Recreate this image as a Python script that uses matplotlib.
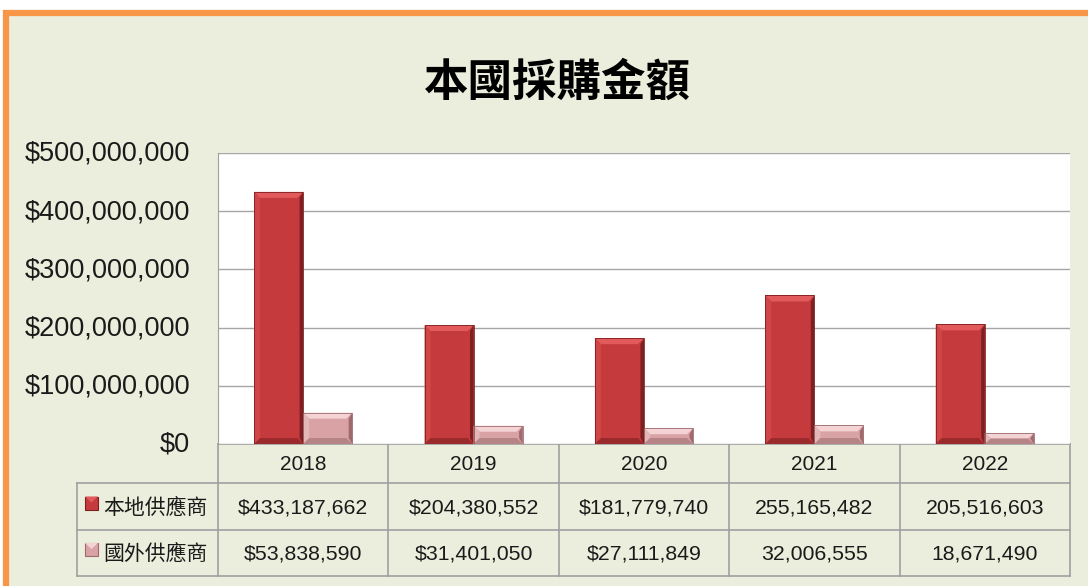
#!/usr/bin/env python3
"""Recreate the 本國採購金額 bar chart with a data table underneath."""

import numpy as np
import matplotlib
matplotlib.use("Agg")
import matplotlib.pyplot as plt
from matplotlib.patches import Rectangle, Polygon
from matplotlib.ticker import FuncFormatter
from matplotlib.transforms import ScaledTranslation

# === Data ===
years = ["2018", "2019", "2020", "2021", "2022"]
series_names = ["本地供應商", "國外供應商"]
local_vals = [433187662, 204380552, 181779740, 255165482, 205516603]
foreign_vals = [53838590, 31401050, 27111849, 32006555, 18671490]
local_labels = ["$433,187,662", "$204,380,552", "$181,779,740", "255,165,482", "205,516,603"]
foreign_labels = ["$53,838,590", "$31,401,050", "$27,111,849", "32,006,555", "18,671,490"]
title = "本國採購金額"

# === Style ===
W, H, DPI = 1088, 586, 100
BG = "#EBEEDC"
ORANGE = "#F79646"
GRID = "#A6A6A6"
LINE = "#A0A0A0"
TXT = "#1A1A1A"
LOCAL = dict(face="#C53A3C", top="#E25A5B", left="#D04647", right="#7E2022", bottom="#9A2A2C")
FOREIGN = dict(face="#D9A2A5", top="#F4D3D5", left="#E3B6B8", right="#9E6A6D", bottom="#B68487")
CJK = ["Noto Sans CJK TC", "DejaVu Sans"]
LAT = ["Liberation Sans", "DejaVu Sans"]

# plot area in pixels
PX_L, PX_R, PX_T, PX_B = 218, 1070, 153, 444
YMAX = 500_000_000
BAR_W = 0.288


def bevel_bar(ax, x0, w, h, c, px_per_x, px_per_y):
    """Bar with a simple bevelled look (like the Office 3-D bars)."""
    if h <= 0:
        return
    bx = 6 / px_per_x
    by = min(6 / px_per_y, h / 2)
    x1 = x0 + w
    ax.add_patch(Rectangle((x0, 0), w, h, facecolor=c["face"], edgecolor="none", zorder=3))
    ax.add_patch(Polygon([(x0, h), (x1, h), (x1 - bx, h - by), (x0 + bx, h - by)],
                         closed=True, facecolor=c["top"], edgecolor="none", zorder=4))
    ax.add_patch(Polygon([(x0, 0), (x0, h), (x0 + bx, h - by), (x0 + bx, by)],
                         closed=True, facecolor=c["left"], edgecolor="none", zorder=4))
    ax.add_patch(Polygon([(x1, 0), (x1, h), (x1 - bx * 0.6, h - by), (x1 - bx * 0.6, by)],
                         closed=True, facecolor=c["right"], edgecolor="none", zorder=4))
    ax.add_patch(Polygon([(x0, 0), (x1, 0), (x1 - bx, by), (x0 + bx, by)],
                         closed=True, facecolor=c["bottom"], edgecolor="none", zorder=4))
    ax.add_patch(Rectangle((x0, 0), w, h, facecolor="none", edgecolor=c["right"],
                           linewidth=0.6, zorder=5))


def main():
    fig = plt.figure(figsize=(W / DPI, H / DPI), dpi=DPI)
    fig.patch.set_facecolor("white")

    # overlay in pixel coordinates for background, border and table
    ov = fig.add_axes([0, 0, 1, 1])
    ov.set_xlim(0, W)
    ov.set_ylim(H, 0)
    ov.axis("off")
    ov.add_patch(Rectangle((3, 10), W, H, facecolor=BG, edgecolor="none", zorder=0))
    ov.plot([3, W], [13, 13], color=ORANGE, lw=4.5, solid_capstyle="butt", zorder=1)
    ov.plot([5.5, 5.5], [10, H], color=ORANGE, lw=4.5, solid_capstyle="butt", zorder=1)

    ov.text(557, 83, title, ha="center", va="center", fontsize=32,
            fontweight="bold", family=CJK, color="black")

    # main bar plot
    ax = fig.add_axes([PX_L / W, 1 - PX_B / H, (PX_R - PX_L) / W, (PX_B - PX_T) / H])
    ax.set_facecolor("white")
    n = len(years)
    ax.set_xlim(-0.5, n - 0.5)
    ax.set_ylim(0, YMAX)
    ax.set_yticks(np.arange(0, YMAX + 1, 100_000_000))
    ax.yaxis.set_major_formatter(FuncFormatter(lambda v, p: f"${v:,.0f}"))
    ax.set_xticks([])
    ax.tick_params(axis="y", length=0, pad=20, labelsize=19.5, labelcolor=TXT)
    shift = ScaledTranslation(0, 2 / DPI, fig.dpi_scale_trans)
    for lab in ax.get_yticklabels():
        lab.set_family(LAT)
        lab.set_transform(lab.get_transform() + shift)
    ax.grid(axis="y", color=GRID, linewidth=1, zorder=1)
    for side in ["top", "right", "bottom"]:
        ax.spines[side].set_visible(False)
    ax.spines["left"].set_color(LINE)

    px_per_x = (PX_R - PX_L) / n
    px_per_y = (PX_B - PX_T) / YMAX
    for i in range(n):
        bevel_bar(ax, i - BAR_W, BAR_W, local_vals[i], LOCAL, px_per_x, px_per_y)
        bevel_bar(ax, i, BAR_W, foreign_vals[i], FOREIGN, px_per_x, px_per_y)

    # --- data table under the plot ---
    row_y = [PX_B, 483, 530, 576]
    tab_l = 77
    col_x = [PX_L + (PX_R - PX_L) * k / n for k in range(n + 1)]
    ov.plot([PX_L, PX_R], [row_y[0], row_y[0]], color=LINE, lw=1.2, zorder=2)
    for y in row_y[1:]:
        ov.plot([tab_l, PX_R], [y, y], color=LINE, lw=1.2, zorder=2)
    for x in col_x:
        ov.plot([x, x], [row_y[0], row_y[3]], color=LINE, lw=1.2, zorder=2)
    ov.plot([tab_l, tab_l], [row_y[1], row_y[3]], color=LINE, lw=1.2, zorder=2)

    for i, yr in enumerate(years):
        cx = (col_x[i] + col_x[i + 1]) / 2
        ov.text(cx, (row_y[0] + row_y[1]) / 2 + 1, yr, ha="center", va="center",
                fontsize=15, family=LAT, color=TXT)
        ov.text(cx, (row_y[1] + row_y[2]) / 2 + 1, local_labels[i], ha="center", va="center",
                fontsize=15.3, family=LAT, color=TXT)
        ov.text(cx, (row_y[2] + row_y[3]) / 2 + 1, foreign_labels[i], ha="center", va="center",
                fontsize=15.3, family=LAT, color=TXT)

    for r, (name, c) in enumerate(zip(series_names, [LOCAL, FOREIGN])):
        cy = (row_y[r + 1] + row_y[r + 2]) / 2
        ov.add_patch(Rectangle((85, cy - 10), 13, 13, facecolor=c["face"],
                               edgecolor=c["right"], lw=0.8, zorder=3))
        ov.add_patch(Polygon([(85, cy - 10), (98, cy - 10), (91.5, cy - 4)], closed=True,
                             facecolor=c["top"], edgecolor="none", zorder=4))
        ov.text(103, cy + 1, name, ha="left", va="center", fontsize=15,
                family=CJK, color=TXT)

    fig.savefig("out.png", dpi=DPI, facecolor=fig.get_facecolor())


if __name__ == "__main__":
    main()
